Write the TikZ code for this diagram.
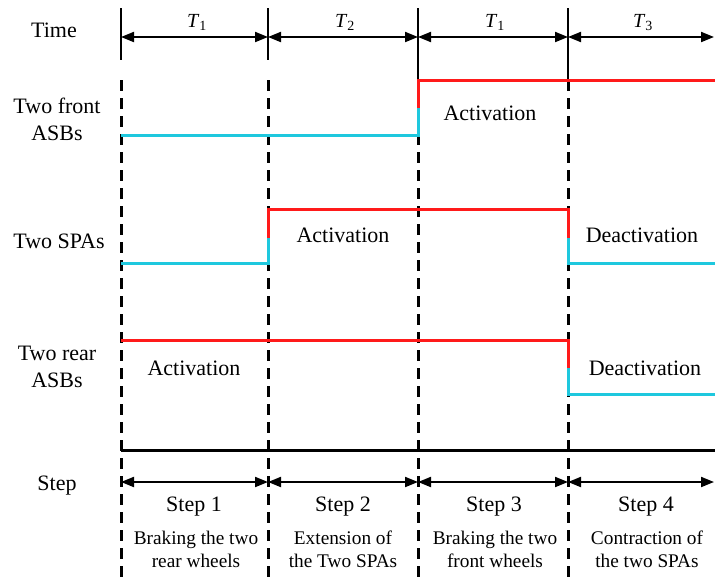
\documentclass[tikz,border=0pt]{standalone}
\usepackage{fontspec}
\setmainfont{Liberation Serif}
\usetikzlibrary{arrows.meta, positioning}
\definecolor{onred}{HTML}{FF1A1A}
\definecolor{offcyan}{HTML}{1EC8DE}
\newcommand{\Tsub}[1]{\textit{T}\textsubscript{#1}}

\begin{document}
\begin{tikzpicture}[
  x=1pt, y=-1pt,
  rowlbl/.style={font=\fontsize{22}{27}\selectfont, align=center},
  phase/.style={font=\fontsize{22}{26}\selectfont, anchor=base},
  tlbl/.style={font=\fontsize{20}{22}\selectfont, anchor=base},
  steplbl/.style={font=\fontsize{22}{26}\selectfont, anchor=base},
  desc/.style={font=\fontsize{19.3}{23}\selectfont, align=center},
  tmark/.style={line width=2pt},
  gridline/.style={line width=3pt, dash pattern=on 11pt off 7pt},
  period/.style={{Triangle[length=13pt, width=10pt]}-{Triangle[length=13pt, width=10pt]}, line width=2pt},
  onsig/.style={draw=onred, line width=3pt},
  offsig/.style={draw=offcyan, line width=3pt}
]
\useasboundingbox (0,0) rectangle (715,582);

% boundaries between the steps
\foreach \x/\s [count=\i from 0] in {121/60, 268/60, 418/80, 568/80} {
  \coordinate (top\i) at (\x,8);
  \coordinate (end\i) at (\x,\s);
  \coordinate (dash\i) at (\x,80);
  \coordinate (bot\i) at (\x,582);
  \coordinate (tm\i) at (\x,37);
  \coordinate (st\i) at (\x,482);
}
\coordinate (tm4) at (714,37);
\coordinate (st4) at (714,482);

\foreach \i in {0,...,3} {
  \draw[tmark] (top\i) -- (end\i);
  \draw[gridline] (dash\i) -- (bot\i);
}

% row titles
\node[rowlbl, anchor=base] (time)  at (54,37)  {Time};
\node[rowlbl] (front) at (57,119) {Two front\\ASBs};
\node[rowlbl, anchor=base] (spas)  at (59,248) {Two SPAs};
\node[rowlbl] (rear)  at (57,367) {Two rear\\ASBs};
\node[rowlbl, anchor=base] (step)  at (57,490) {Step};

% time axis
\draw[period] (tm0) -- (tm1);
\draw[period] (tm1) -- (tm2);
\draw[period] (tm2) -- (tm3);
\draw[period] (tm3) -- (tm4);
\node[tlbl] (ta) at (197,27) {\Tsub{1}};
\node[tlbl] (tb) at (345,27) {\Tsub{2}};
\node[tlbl] (tc) at (495,27) {\Tsub{1}};
\node[tlbl] (td) at (643,27) {\Tsub{3}};

% two front ASBs
\draw[offsig] (121,135) -- (418,135) -- (418,108);
\draw[onsig] (418,108) -- (418,80) -- (715,80);
\node[phase] (frontact) at (490,120) {Activation};

% two SPAs
\draw[offsig] (121,263) -- (268,263) -- (268,238);
\draw[onsig] (268,238) -- (268,209) -- (568,209) -- (568,238);
\draw[offsig] (568,238) -- (568,263) -- (715,263);
\node[phase] (spaact) at (343,242) {Activation};
\node[phase] (spadeact) at (642,242) {Deactivation};

% two rear ASBs
\draw[onsig] (121,340) -- (568,340) -- (568,368);
\draw[offsig] (568,368) -- (568,394) -- (715,394);
\node[phase] (rearact) at (194,375) {Activation};
\node[phase] (reardeact) at (645,375) {Deactivation};

% step axis
\draw[line width=3pt] (121,450) -- (715,450);
\draw[period] (st0) -- (st1);
\draw[period] (st1) -- (st2);
\draw[period] (st2) -- (st3);
\draw[period] (st3) -- (st4);
\node[steplbl] (s1) at (194,511) {Step 1};
\node[steplbl] (s2) at (343,511) {Step 2};
\node[steplbl] (s3) at (494,511) {Step 3};
\node[steplbl] (s4) at (646,511) {Step 4};
\node[desc] (d1) at (196,549) {Braking the two\\rear wheels};
\node[desc] (d2) at (343,549) {Extension of\\the Two SPAs};
\node[desc] (d3) at (495,549) {Braking the two\\front wheels};
\node[desc] (d4) at (647,549) {Contraction of\\the two SPAs};

\end{tikzpicture}
\end{document}
